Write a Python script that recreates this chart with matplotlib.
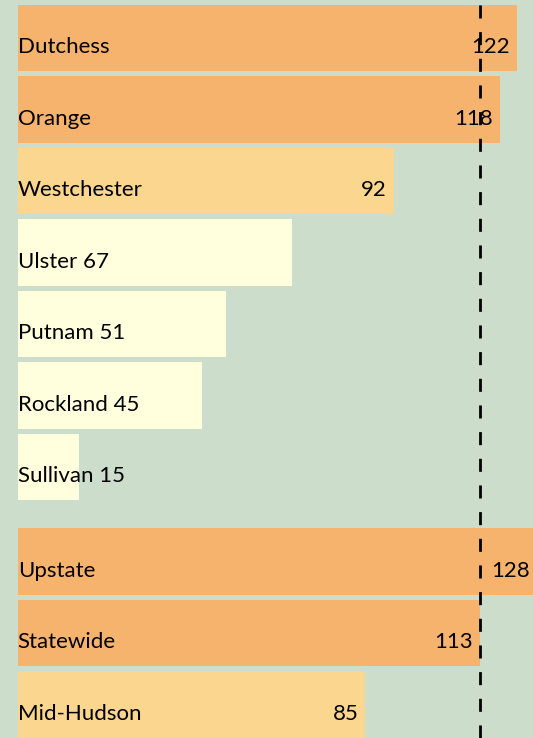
import matplotlib
matplotlib.use("Agg")
import matplotlib.pyplot as plt

# counties, then regional comparisons below a gap
counties = ["Dutchess", "Orange", "Westchester", "Ulster", "Putnam", "Rockland", "Sullivan"]
county_vals = [122, 118, 92, 67, 51, 45, 15]
regions = ["Upstate", "Statewide", "Mid-Hudson"]
region_vals = [128, 113, 85]
statewide = 113

names = counties + regions
vals = county_vals + region_vals
pos = list(range(len(counties))) + [len(counties) + 0.32 + i for i in range(len(regions))]

bg = "#ccddcc"
def tier(v):
    if v >= 100:
        return "#f6b36e"
    if v >= 80:
        return "#fad68e"
    return "#ffffdd"

plt.rcParams["font.family"] = ["Lato", "DejaVu Sans"]

fig = plt.figure(figsize=(5.33, 7.38), dpi=100, facecolor=bg)
ax = fig.add_axes([0, 0, 1, 1])
ax.set_facecolor(bg)

xmax = 126.0
ax.barh(pos, vals, height=0.93, color=[tier(v) for v in vals], zorder=1)

for p, n, v in zip(pos, names, vals):
    if v >= 80:
        ax.annotate(n, (0, p), xytext=(0, -11), textcoords="offset points",
                    ha="left", va="baseline", fontsize=16, zorder=3)
        # bars running past the edge get their value pinned inside the frame
        x = min(v, xmax)
        pad = -5 if v < xmax else -2
        ax.annotate(str(v), (x, p), xytext=(pad, -11), textcoords="offset points",
                    ha="right", va="baseline", fontsize=16, zorder=3)
    else:
        ax.annotate("%s %d" % (n, v), (0, p), xytext=(0, -11), textcoords="offset points",
                    ha="left", va="baseline", fontsize=16, zorder=3)

ax.axvline(statewide, color="black", lw=2, dashes=(4.7, 4.9), zorder=2)

ax.set_xlim(-4.33, xmax)
ax.set_ylim(9.79, -0.53)
ax.axis("off")

plt.savefig("out.png", dpi=100, facecolor=bg)
